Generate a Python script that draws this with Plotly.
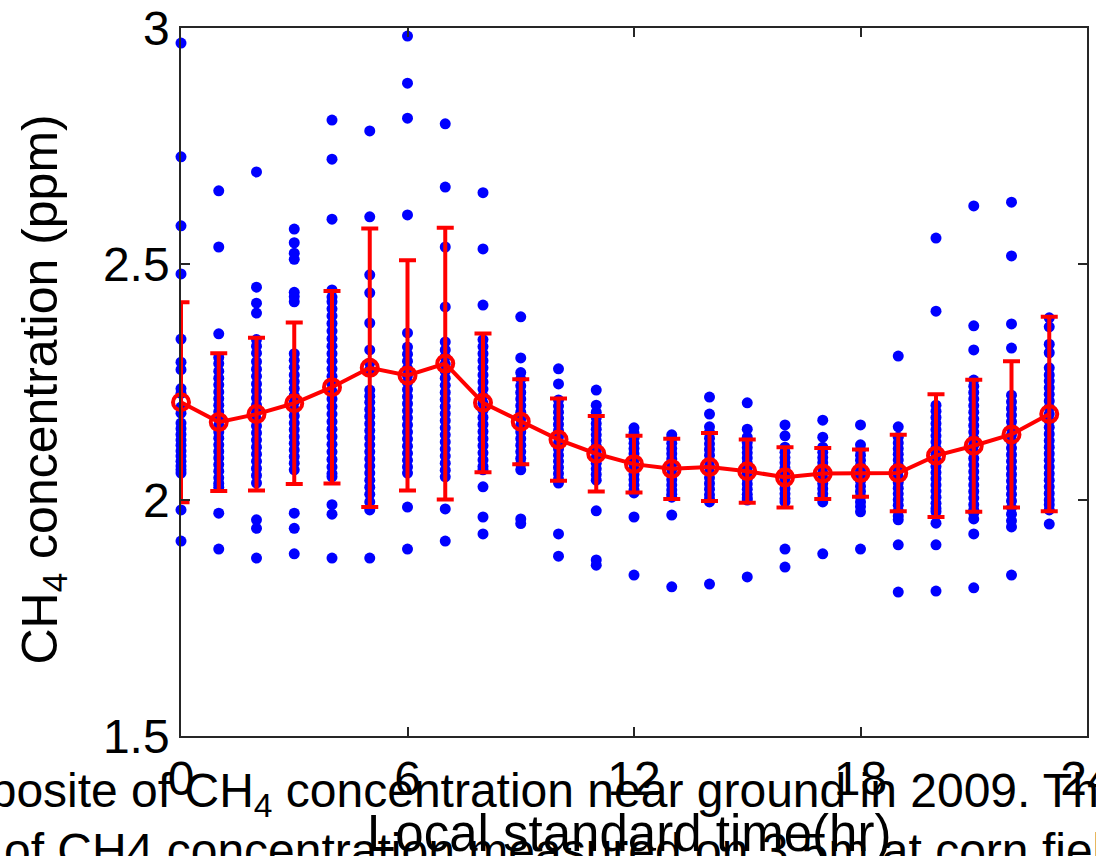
import plotly.graph_objects as go

# ---------------- data ----------------
hours = list(range(24))

mean_ch4 = [2.207, 2.165, 2.182, 2.205, 2.239, 2.280, 2.264, 2.289, 2.206, 2.166,
            2.128, 2.098, 2.076, 2.066, 2.070, 2.061, 2.048, 2.056, 2.057, 2.057,
            2.094, 2.115, 2.139, 2.182]
std_ch4 = [0.212, 0.146, 0.162, 0.171, 0.204, 0.295, 0.244, 0.288, 0.147, 0.090,
           0.087, 0.080, 0.060, 0.064, 0.072, 0.067, 0.064, 0.054, 0.050, 0.081,
           0.130, 0.140, 0.155, 0.206]

h00 = [2.968, 2.727, 2.581, 2.479, 2.341, 2.292, 2.276, 2.236, 2.226, 2.197, 2.184, 2.163, 2.151, 2.139,
       2.127, 2.116, 2.104, 2.093, 2.082, 2.072, 2.064, 2.057, 1.979, 1.913]
h01 = [2.655, 2.536, 2.352, 2.302, 2.289, 2.273, 2.258, 2.244, 2.229, 2.215, 2.201, 2.187, 2.172, 2.158,
       2.144, 2.131, 2.117, 2.103, 2.089, 2.075, 2.061, 2.047, 2.035, 2.027, 1.972, 1.896]
h02 = [2.695, 2.451, 2.417, 2.396, 2.340, 2.326, 2.311, 2.293, 2.277, 2.262, 2.246, 2.231, 2.216, 2.201,
       2.186, 2.171, 2.157, 2.142, 2.127, 2.112, 2.097, 2.082, 2.067, 2.052, 2.036, 1.958, 1.940, 1.877]
h03 = [2.574, 2.545, 2.523, 2.510, 2.440, 2.431, 2.420, 2.310, 2.296, 2.281, 2.265, 2.251, 2.236, 2.221,
       2.207, 2.192, 2.178, 2.163, 2.149, 2.134, 2.120, 2.106, 2.092, 2.078, 2.064, 1.972, 1.940, 1.886]
h04 = [2.805, 2.722, 2.595, 2.445, 2.430, 2.420, 2.405, 2.390, 2.374, 2.358, 2.342, 2.326, 2.310, 2.294,
       2.278, 2.262, 2.246, 2.230, 2.214, 2.198, 2.182, 2.166, 2.150, 2.134, 2.118, 2.102, 2.086, 2.070,
       2.056, 2.049, 1.990, 1.970, 1.877]
h05 = [2.782, 2.600, 2.477, 2.439, 2.375, 2.318, 2.290, 2.276, 2.233, 2.220, 2.207, 2.192, 2.177, 2.162,
       2.147, 2.132, 2.117, 2.102, 2.087, 2.072, 2.057, 2.042, 2.027, 2.012, 1.996, 1.979, 1.877]
h06 = [2.983, 2.883, 2.809, 2.604, 2.354, 2.324, 2.309, 2.294, 2.279, 2.264, 2.249, 2.234, 2.219, 2.204,
       2.189, 2.174, 2.159, 2.144, 2.129, 2.114, 2.099, 2.084, 2.070, 2.057, 1.985, 1.896]
h07 = [2.797, 2.663, 2.536, 2.409, 2.335, 2.318, 2.303, 2.288, 2.273, 2.258, 2.243, 2.228, 2.213, 2.198,
       2.183, 2.168, 2.153, 2.138, 2.123, 2.108, 2.093, 2.078, 2.063, 2.049, 1.981, 1.913]
h08 = [2.651, 2.532, 2.413, 2.340, 2.325, 2.310, 2.295, 2.280, 2.265, 2.250, 2.235, 2.220, 2.205, 2.190,
       2.175, 2.160, 2.145, 2.130, 2.115, 2.100, 2.085, 2.071, 2.064, 2.028, 1.964, 1.928]
h09 = [2.388, 2.301, 2.270, 2.256, 2.242, 2.228, 2.214, 2.200, 2.186, 2.172, 2.158, 2.144, 2.130, 2.116,
       2.102, 2.088, 2.076, 2.064, 1.960, 1.950]
h10 = [2.278, 2.246, 2.212, 2.199, 2.186, 2.173, 2.160, 2.147, 2.134, 2.121, 2.108, 2.095, 2.082, 2.069,
       2.056, 2.044, 2.036, 1.928, 1.881]
h11 = [2.233, 2.201, 2.186, 2.174, 2.162, 2.150, 2.138, 2.126, 2.114, 2.102, 2.090, 2.078, 2.066, 2.054,
       2.042, 1.977, 1.873, 1.862]
h12 = [2.153, 2.142, 2.131, 2.120, 2.109, 2.098, 2.087, 2.076, 2.065, 2.054, 2.043, 2.032, 2.021, 2.015,
       1.964, 1.841]
h13 = [2.138, 2.131, 2.120, 2.109, 2.098, 2.087, 2.076, 2.065, 2.054, 2.043, 2.032, 2.021, 2.012, 2.006,
       1.968, 1.816]
h14 = [2.218, 2.182, 2.155, 2.143, 2.131, 2.119, 2.107, 2.095, 2.083, 2.071, 2.059, 2.047, 2.035, 2.023,
       2.011, 2.002, 1.996, 1.822]
h15 = [2.206, 2.150, 2.133, 2.122, 2.111, 2.100, 2.089, 2.078, 2.067, 2.056, 2.045, 2.034, 2.023, 2.012,
       2.004, 2.000, 1.837]
h16 = [2.159, 2.136, 2.112, 2.101, 2.090, 2.079, 2.068, 2.057, 2.046, 2.035, 2.024, 2.013, 2.003, 1.996,
       1.896, 1.858]
h17 = [2.169, 2.133, 2.112, 2.101, 2.090, 2.079, 2.068, 2.057, 2.046, 2.035, 2.024, 2.013, 2.003, 1.996,
       1.886]
h18 = [2.159, 2.117, 2.106, 2.095, 2.084, 2.073, 2.062, 2.051, 2.040, 2.029, 2.018, 2.007, 1.996, 1.986,
       1.975, 1.896]
h19 = [2.305, 2.155, 2.133, 2.121, 2.109, 2.097, 2.085, 2.073, 2.061, 2.049, 2.037, 2.025, 2.013, 2.001,
       1.989, 1.977, 1.966, 1.958, 1.905, 1.805]
h20 = [2.555, 2.400, 2.201, 2.188, 2.175, 2.162, 2.149, 2.136, 2.123, 2.110, 2.097, 2.084, 2.071, 2.058,
       2.045, 2.032, 2.019, 2.006, 1.993, 1.982, 1.975, 1.951, 1.905, 1.807]
h21 = [2.623, 2.369, 2.318, 2.254, 2.241, 2.228, 2.214, 2.200, 2.186, 2.172, 2.158, 2.144, 2.130, 2.116,
       2.102, 2.088, 2.074, 2.060, 2.046, 2.032, 2.018, 2.004, 1.990, 1.979, 1.972, 1.960, 1.928, 1.814]
h22 = [2.631, 2.517, 2.373, 2.322, 2.222, 2.208, 2.194, 2.180, 2.166, 2.152, 2.138, 2.124, 2.110, 2.096,
       2.082, 2.068, 2.054, 2.040, 2.026, 2.012, 1.998, 1.984, 1.970, 1.956, 1.943, 1.841]
h23 = [2.386, 2.367, 2.330, 2.312, 2.280, 2.265, 2.252, 2.238, 2.224, 2.210, 2.196, 2.182, 2.168, 2.154,
       2.140, 2.126, 2.112, 2.098, 2.084, 2.070, 2.056, 2.042, 2.028, 2.014, 2.000, 1.990, 1.979, 1.949]

hourly_obs = [h00, h01, h02, h03, h04, h05, h06, h07, h08, h09, h10, h11,
              h12, h13, h14, h15, h16, h17, h18, h19, h20, h21, h22, h23]

x_ticks = [0, 6, 12, 18, 24]
y_ticks = [1.5, 2, 2.5, 3]
y_ticktext = ["1.5", "2", "2.5", "3"]

x_label = "Local standard time(hr)"
y_label = "CH<sub>4</sub> concentration (ppm)"
caption_1 = "composite of CH<sub>4</sub> concentration near ground in 2009. This"
caption_2 = "of CH4 concentration measured on 3.5m at corn field"

# ---------------- figure ----------------
W, H = 1096, 856
ML, MR, MT, MB = 181, 9, 28, 120
PW, PH = W - ML - MR, H - MT - MB


def px_x(px):
    return (px - ML) / PW


def px_y(py):
    return (H - MB - py) / PH


FONT = "Liberation Sans, Arial, Helvetica, sans-serif"

sx, sy = [], []
for h, vals in zip(hours, hourly_obs):
    for v in vals:
        sx.append(h)
        sy.append(v)

fig = go.Figure()
fig.add_trace(go.Scatter(
    x=sx, y=sy, mode="markers",
    marker=dict(color="#0000FF", size=11, line=dict(width=0)),
    cliponaxis=False, showlegend=False, hoverinfo="skip"))

fig.add_trace(go.Scatter(
    x=hours, y=mean_ch4, mode="lines",
    line=dict(color="#FF0000", width=4),
    error_y=dict(type="data", array=std_ch4, visible=True,
                 color="#FF0000", thickness=4, width=8.5),
    cliponaxis=True, showlegend=False))

fig.add_trace(go.Scatter(
    x=hours, y=mean_ch4, mode="markers",
    marker=dict(symbol="circle-open", color="#FF0000", size=16,
                line=dict(color="#FF0000", width=4)),
    cliponaxis=False, showlegend=False))

axis_common = dict(
    showgrid=False, zeroline=False, showline=True, linecolor="#262626",
    linewidth=1.5, mirror="ticks", ticks="inside", ticklen=9, tickwidth=1.5,
    tickcolor="#262626", tickfont=dict(family=FONT, size=48, color="black"),
    automargin=False, ticklabeloverflow="allow")

fig.update_xaxes(range=[0, 24], tickmode="array", tickvals=x_ticks,
                 ticklabelstandoff=0, **axis_common)
fig.update_yaxes(range=[1.5, 3], tickmode="array", tickvals=y_ticks,
                 ticktext=y_ticktext, ticklabelstandoff=0, **axis_common)

annotations = [
    dict(text=caption_1, x=px_x(-103), y=px_y(761.5), xanchor="left", yanchor="top",
         font=dict(family=FONT, size=48, color="black")),
    dict(text=caption_2, x=px_x(2), y=px_y(821.5), xanchor="left", yanchor="top",
         font=dict(family=FONT, size=48, color="black")),
    dict(text=x_label, x=px_x(629), y=px_y(803), xanchor="center", yanchor="top",
         font=dict(family=FONT, size=51, color="black")),
    dict(text=y_label, x=px_x(9), y=px_y(390), xanchor="left", yanchor="middle",
         textangle=-90, font=dict(family=FONT, size=50, color="black")),
]
for a in annotations:
    a.update(xref="paper", yref="paper", showarrow=False)

fig.update_layout(
    width=W, height=H, autosize=False,
    margin=dict(l=ML, r=MR, t=MT, b=MB, pad=0, autoexpand=False),
    paper_bgcolor="white", plot_bgcolor="white",
    annotations=annotations, showlegend=False)

fig.write_html("out.html")
